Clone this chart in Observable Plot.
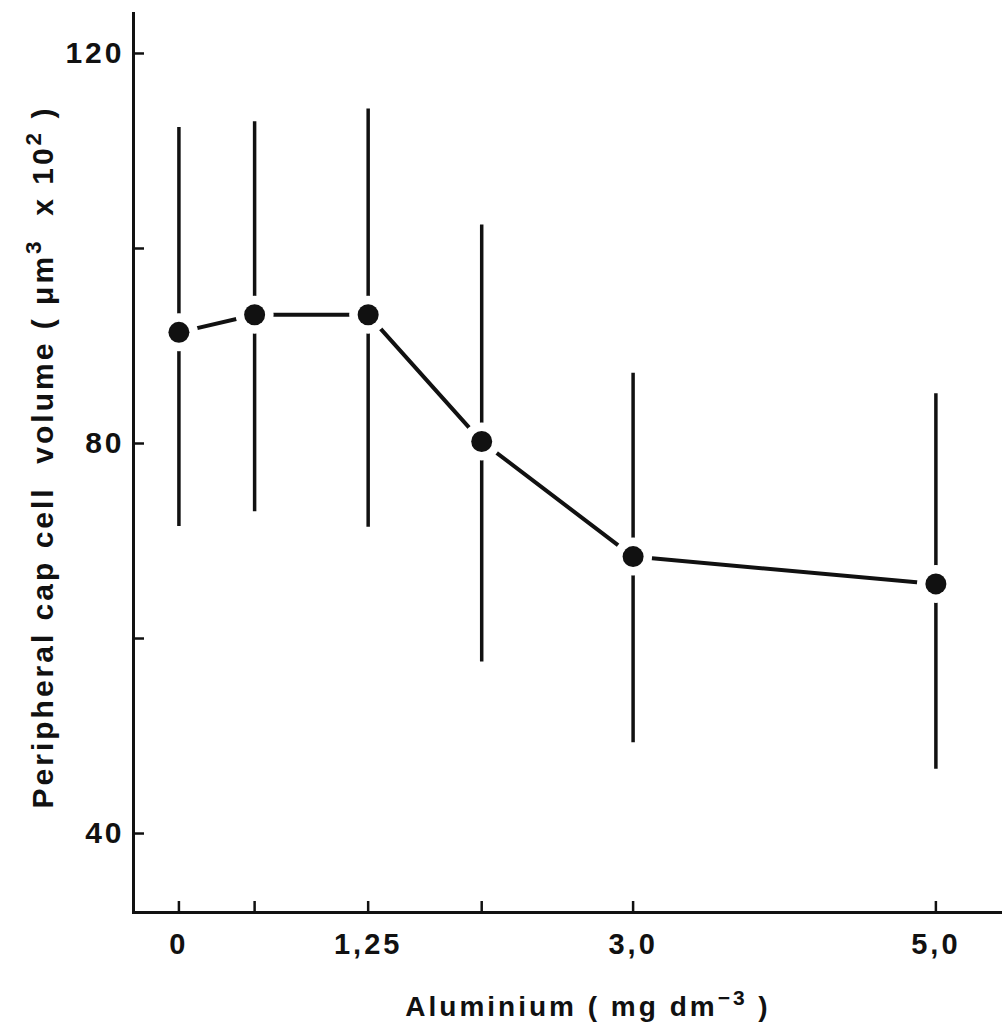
<!DOCTYPE html>
<html><head><meta charset="utf-8">
<script src="https://cdn.jsdelivr.net/npm/d3@7"></script>
<script src="https://cdn.jsdelivr.net/npm/@observablehq/plot@0.6"></script>
<style>body{margin:0;background:#fff}</style>
</head><body><div id="chart"></div>
<script>
// Data
const aluminium = [0, 0.5, 1.25, 2.0, 3.0, 5.0];
const meanVolume = [91.4, 93.2, 93.2, 80.2, 68.4, 65.6];
const upperVolume = [112.4, 113.0, 114.3, 102.4, 87.2, 85.1];
const lowerVolume = [71.5, 73.0, 71.4, 57.6, 49.3, 46.6];
const xTicks = [0, 0.5, 1.25, 2.0, 3.0, 5.0];
const xTickLabels = ["0", "", "1,25", "", "3,0", "5,0"];
const yTicks = [40, 60, 80, 100, 120];
const yTickLabels = ["40", "", "80", "", "120"];
const yTitleParts = ["Peripheral cap cell  volume ( \u03bcm", "3", "  x 10", "2", " )"];
const xTitleParts = ["Aluminium ( mg dm", "\u22123", " )"];

const data = aluminium.map((x, i) => ({x, y: meanVolume[i], lo: lowerVolume[i], hi: upperVolume[i]}));
const yTitle = yTitleParts.join("");
const xTitle = xTitleParts.join("");

const chart = Plot.plot({
  width: 1002, height: 1033,
  marginLeft: 133, marginRight: 0, marginTop: 13, marginBottom: 121,
  x: {domain: [-0.30, 5.44]},
  y: {domain: [31.9, 124.1]},
  style: {fontFamily: "'Liberation Sans', Arial, sans-serif", fontWeight: "bold", background: "white", color: "#111", letterSpacing: "3px"},
  marks: [
    Plot.frame({anchor: "left", strokeWidth: 3, stroke: "#111"}),
    Plot.frame({anchor: "bottom", strokeWidth: 3, stroke: "#111"}),
    Plot.axisY(yTicks, {anchor: "left", tickSize: -11, tickPadding: 20, strokeWidth: 2.5, fontSize: 30, label: null,
      tickFormat: d => yTickLabels[yTicks.indexOf(d)]}),
    Plot.axisX(xTicks, {anchor: "bottom", tickSize: -11, tickPadding: 32, strokeWidth: 2.5, fontSize: 29, label: null,
      tickFormat: d => xTickLabels[xTicks.indexOf(d)]}),
    Plot.line(data, {x: "x", y: "y", stroke: "#111", strokeWidth: 4}),
    Plot.ruleX(data, {x: "x", y1: "lo", y2: "hi", stroke: "#111", strokeWidth: 3.5}),
    Plot.dot(data, {x: "x", y: "y", r: 19, fill: "white"}),
    Plot.dot(data, {x: "x", y: "y", r: 10.5, fill: "#111"}),
    Plot.text([yTitle], {text: d => d, frameAnchor: "left", textAnchor: "middle", dx: -90, dy: -6, rotate: -90, fontSize: 30, lineAnchor: "middle", fill: "#111"}),
    Plot.text([xTitle], {text: d => d, frameAnchor: "bottom", textAnchor: "middle", dx: 20, dy: 95, fontSize: 28, lineAnchor: "middle", fill: "#111"})
  ]
});
document.getElementById("chart").appendChild(chart);

function superscript(full, parts) {
  d3.select(chart).selectAll("text").filter(function() { return this.textContent === full; }).each(function() {
    const t = d3.select(this);
    t.text(null);
    parts.forEach((p, i) => {
      const sup = i % 2 === 1;
      const s = t.append("tspan").text(p);
      if (sup) s.attr("dy", "-0.55em").attr("font-size", "0.75em");
      else if (i > 0) s.attr("dy", "0.41em");
    });
  });
}
superscript(yTitle, yTitleParts);
superscript(xTitle, xTitleParts);
</script>
</body></html>
